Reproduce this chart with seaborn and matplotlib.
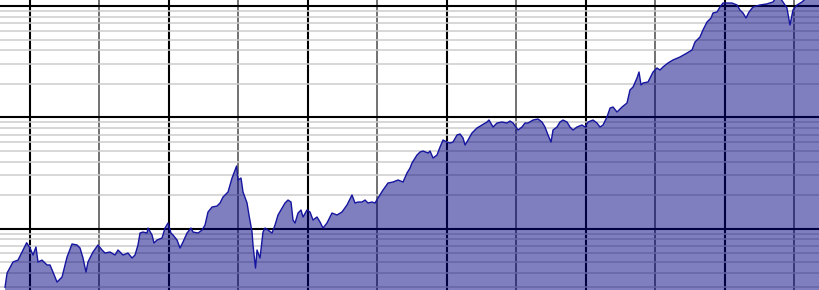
import matplotlib
matplotlib.use("Agg")
import matplotlib.pyplot as plt
import matplotlib.ticker as mticker
import seaborn as sns
import pandas as pd

years = [1896.4, 1896.7, 1897.55, 1898.27, 1898.85, 1899.52, 1900.0, 1900.43, 1900.86, 1901.15,
         1901.73, 1902.45, 1902.88, 1903.31, 1903.89, 1904.61, 1905.33, 1906.05, 1906.77, 1907.2,
         1907.63, 1908.06, 1908.35, 1909.07, 1909.79, 1910.37, 1910.8, 1911.52, 1912.24, 1912.67,
         1913.39, 1914.11, 1914.69, 1915.12, 1915.55, 1915.84, 1916.27, 1916.85, 1916.99, 1917.57,
         1917.85, 1918.29, 1919.01, 1919.44, 1919.87, 1920.3, 1920.59, 1921.17, 1921.6, 1922.03,
         1922.61, 1923.18, 1923.47, 1924.19, 1924.77, 1925.2, 1925.63, 1926.21, 1926.93, 1927.36,
         1927.79, 1928.51, 1929.09, 1929.52, 1929.75, 1929.95, 1930.38, 1930.67, 1931.25, 1931.53,
         1931.97, 1932.11, 1932.47, 1932.69, 1933.12, 1933.55, 1933.84, 1934.27, 1934.85, 1935.28,
         1935.71, 1936.29, 1936.72, 1937.15, 1937.58, 1937.87, 1938.16, 1938.59, 1939.02, 1939.31,
         1939.88, 1940.32, 1940.75, 1941.32, 1941.76, 1942.19, 1942.76, 1943.48, 1944.2, 1944.92,
         1945.64, 1946.36, 1946.8, 1947.23, 1947.8, 1948.24, 1948.67, 1949.24, 1949.68, 1950.11,
         1950.83, 1951.55, 1952.27, 1952.99, 1953.71, 1954.28, 1954.72, 1955.0, 1955.44, 1955.72,
         1956.16, 1956.59, 1957.31, 1957.6, 1958.03, 1958.6, 1959.04, 1959.47, 1960.04, 1960.48,
         1960.91, 1961.48, 1961.92, 1962.35, 1962.64, 1963.07, 1963.64, 1964.36, 1965.08, 1965.8,
         1966.09, 1966.67, 1967.24, 1967.96, 1968.68, 1969.11, 1969.55, 1970.27, 1970.84, 1971.27,
         1971.71, 1972.43, 1973.15, 1973.72, 1974.15, 1974.59, 1975.02, 1975.31, 1975.88, 1976.31,
         1976.75, 1977.32, 1977.75, 1978.19, 1978.76, 1979.48, 1979.91, 1980.35, 1981.07, 1981.64,
         1982.07, 1982.51, 1983.08, 1983.52, 1983.95, 1984.52, 1985.24, 1985.96, 1986.39, 1986.83,
         1987.4, 1987.69, 1987.98, 1988.27, 1988.99, 1989.71, 1990.28, 1990.71, 1991.14, 1991.86,
         1992.58, 1993.59, 1994.6, 1995.32, 1995.75, 1996.47, 1996.9, 1997.48, 1998.06, 1998.34,
         1998.92, 1999.35, 1999.78, 2000.36, 2001.08, 2001.8, 2002.23, 2002.66, 2003.1, 2003.53,
         2004.1, 2005.11, 2006.12, 2006.98, 2007.7, 2008.42, 2008.99, 2009.43, 2009.86, 2010.44,
         2011.16, 2011.88, 2012.74, 2013.75]

index_values = [29.5, 39.8, 50, 52, 61.5, 74.5, 66.8, 57.8, 68.2, 50,
                52, 47, 47, 40.6, 33, 36.6, 55.4, 72.6, 71.1, 66.8,
                54.3, 40.6, 50, 61.5, 71.1, 64.1, 60.2, 61.5, 57.8, 64.1,
                57.8, 60.2, 54.3, 57.8, 71.1, 91.1, 93, 91.1, 101, 87.4,
                74.1, 78.8, 82.2, 101, 112, 91.1, 87.4, 78.8, 66.8, 75.6,
                91.1, 101, 93, 91.1, 96.9, 107.5, 140.7, 156.1, 159.3, 169.6,
                192, 212.9, 284.5, 335.8, 365, 273.1, 284.5, 212.9, 169.6, 132.3,
                93, 71.1, 44.1, 64.1, 54.3, 93, 101, 96.9, 91.1, 107.5,
                132.3, 152.9, 169.6, 180.4, 173.1, 119.2, 112, 137.8, 146.7, 126.9,
                146.7, 140.7, 119.2, 126.9, 114.4, 101, 112, 137.8, 132.3, 140.7,
                162.7, 200.1, 169.6, 173.1, 173.1, 180.4, 169.6, 173.1, 169.6, 188.1,
                221.9, 256.6, 261.9, 273.1, 261.9, 315.6, 350, 388.2, 430.5, 458.1,
                487.5, 497.7, 477.5, 497.7, 430.5, 458.1, 540.5, 625, 599.5, 587.3,
                599.5, 693, 708, 651.3, 563.4, 625, 722.5, 801.3, 852.9, 907.4,
                945.6, 818, 888.7, 907.4, 888.7, 926.2, 888.7, 769, 818, 888.7,
                888.7, 945.6, 965.4, 907.4, 818, 693, 599.5, 769, 818, 907.4,
                945.6, 907.4, 818, 769, 818, 852.9, 818, 907.4, 945.6, 888.7,
                818, 852.9, 1006, 1212, 1237, 1116, 1237, 1345, 1760, 1873,
                2256, 2555, 1952, 2035, 2078, 2555, 2776, 2663, 2834, 3078,
                3275, 3486, 3786, 4029, 4756, 5274, 6097, 7194, 7816, 8670,
                8850, 9810, 10660, 10660, 10660, 10230, 9220, 8670, 7816, 8850,
                9810, 10230, 10470, 10890, 12500, 10890, 9610, 6760, 9220, 10230,
                10890, 12000, 13000, 14000]

x_range = (1895.68, 2013.75)
y_range = (28.0, 11346)

df = pd.DataFrame({"year": years, "value": index_values})

sns.set_theme(style="white")
fig = plt.figure(figsize=(8.2, 2.9), dpi=100)
ax = fig.add_axes([0, 0, 1, 1])
ax.set_facecolor("white")

ax.set_yscale("log")
ax.set_xlim(*x_range)
ax.set_ylim(*y_range)

# grid
ax.xaxis.set_major_locator(mticker.MultipleLocator(20))
ax.xaxis.set_minor_locator(mticker.MultipleLocator(10))
ax.yaxis.set_major_locator(mticker.LogLocator(base=10))
ax.yaxis.set_minor_locator(mticker.LogLocator(base=10, subs=range(2, 10)))
ax.grid(True, which="major", axis="both", color="black", linewidth=1.5)
ax.grid(True, which="minor", axis="y", color="#cdcdcd", linewidth=1.1)
ax.grid(True, which="minor", axis="x", color="#4a4a4a", linewidth=1.1)
ax.set_axisbelow(True)

ax.fill_between(df["year"], df["value"], 1, color="#000080", alpha=0.5,
                linewidth=0, zorder=2)
sns.lineplot(data=df, x="year", y="value", ax=ax, color="#1515a0",
             linewidth=1.0, estimator=None, sort=False, zorder=3)

ax.tick_params(which="both", length=0, labelleft=False, labelbottom=False)
ax.set_xlabel("")
ax.set_ylabel("")
for s in ax.spines.values():
    s.set_visible(False)

fig.savefig("out.png", dpi=100)
